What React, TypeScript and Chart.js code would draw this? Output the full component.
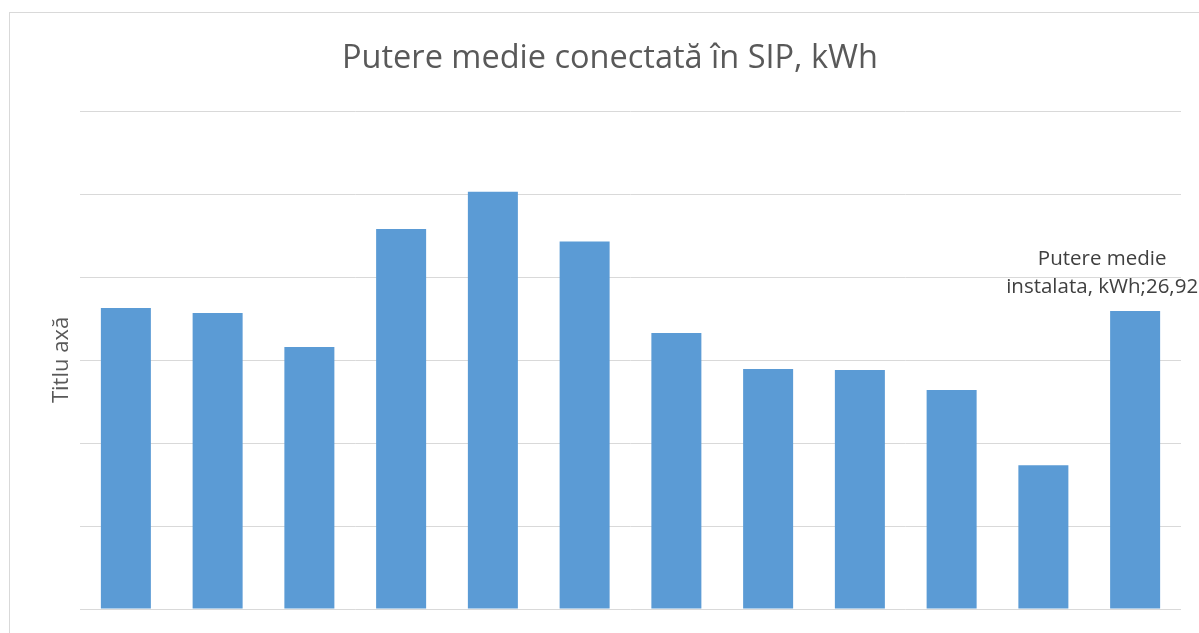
import React, { useEffect, useRef } from "react";
import { Chart, registerables } from "chart.js";

Chart.register(...registerables);

const categories = ["1", "2", "3", "4", "5", "6", "7", "8", "9", "10", "11", "12"];
const seriesName = "Putere medie instalata, kWh";
const values = [27.19, 26.74, 23.67, 34.33, 37.7, 33.2, 24.93, 21.68, 21.6, 19.8, 13.0, 26.92];
const chartTitle = "Putere medie conectată în SIP, kWh";
const yAxisTitle = "Titlu axă";
const labelledIndex = 11;
const yMin = 0;
const yMax = 45;
const yStep = 7.5;

const FONT = "'Open Sans', 'Noto Sans', sans-serif";

const frame = {
  id: "frame",
  beforeDraw(chart: any) {
    const ctx = chart.ctx;
    ctx.save();
    ctx.fillStyle = "#ffffff";
    ctx.fillRect(0, 0, chart.width, chart.height);
    ctx.strokeStyle = "#d9d9d9";
    ctx.lineWidth = 1;
    ctx.strokeRect(9.5, 12.5, chart.width + 10, chart.height + 10);
    ctx.restore();
  },
};

const pointLabel = {
  id: "pointLabel",
  afterDatasetsDraw(chart: any) {
    const meta = chart.getDatasetMeta(0);
    const bar = meta.data[labelledIndex];
    if (!bar) return;
    const ctx = chart.ctx;
    const v = values[labelledIndex].toFixed(2).replace(".", ",");
    const lines = ["Putere medie", "instalata, kWh;" + v];
    ctx.save();
    ctx.font = `20.5px ${FONT}`;
    ctx.fillStyle = "#404040";
    ctx.textAlign = "center";
    ctx.textBaseline = "middle";
    const cx = bar.x - 33;
    ctx.fillText(lines[0], cx, bar.y - 52);
    ctx.fillText(lines[1], cx, bar.y - 24);
    ctx.restore();
  },
};

export default function App() {
  const ref = useRef<HTMLCanvasElement>(null);
  useEffect(() => {
    if (!ref.current) return;
    const chart = new Chart(ref.current, {
      type: "bar",
      data: {
        labels: categories,
        datasets: [
          {
            label: seriesName,
            data: values,
            backgroundColor: "#5b9bd5",
            borderWidth: 0,
            barPercentage: 0.545,
            categoryPercentage: 1,
          },
        ],
      },
      options: {
        animation: false,
        responsive: false,
        layout: { padding: { left: 39, right: 18, top: 0, bottom: 16 } },
        plugins: {
          legend: { display: false },
          tooltip: { enabled: false },
          title: {
            display: true,
            text: chartTitle,
            color: "#595959",
            font: { family: FONT, size: 32.5, weight: "normal" },
            padding: { top: 39, bottom: 33 },
          },
        },
        scales: {
          x: {
            grid: { display: false },
            border: { display: false },
            ticks: { display: false },
          },
          y: {
            min: yMin,
            max: yMax,
            ticks: { display: false, stepSize: yStep },
            grid: { color: "#d9d9d9", lineWidth: 1, drawTicks: false },
            border: { display: false },
            title: {
              display: true,
              text: yAxisTitle,
              color: "#595959",
              font: { family: FONT, size: 22, weight: "normal" },
              padding: { top: 10, bottom: 0 },
            },
            afterFit: (axis: any) => {
              axis.width = 41;
            },
          },
        },
      },
      plugins: [frame, pointLabel],
    });
    return () => chart.destroy();
  }, []);
  return (
    <div style={{ position: "absolute", left: 0, top: 0, width: 1199, height: 633 }}>
      <canvas ref={ref} width={1199} height={633} style={{ display: "block" }} />
    </div>
  );
}
